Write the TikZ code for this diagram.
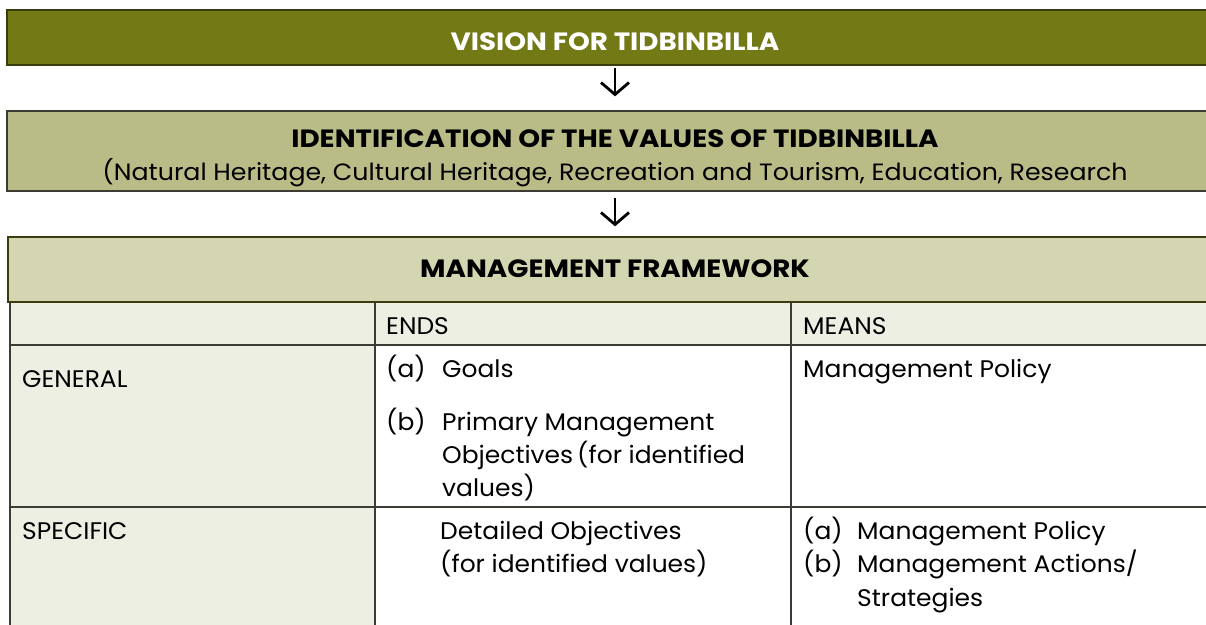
\documentclass[tikz,border=0pt]{standalone}
\usepackage{fontspec}
\setmainfont{Poppins}
\newfontfamily\cellfont[FakeStretch=1.04]{Poppins}
\newfontfamily\subfont[FakeStretch=1.07]{Poppins}
\newfontfamily\ttlfont[FakeStretch=1.11]{Poppins}
\usetikzlibrary{arrows.meta}
\definecolor{olivedark}{RGB}{115,122,21}
\definecolor{oliveline}{RGB}{58,60,12}
\definecolor{olivemid}{RGB}{185,188,134}
\definecolor{olivelight}{RGB}{212,214,177}
\definecolor{cellbg}{RGB}{238,239,227}
\definecolor{linegray}{RGB}{60,60,52}
\begin{document}
\begin{tikzpicture}[x=1pt,y=-1pt,
  box/.style={draw=linegray,line width=1.3pt,inner sep=0pt,minimum height=#1},
  ttl/.style={font=\ttlfont\fontsize{25}{28}\selectfont\bfseries,anchor=base,inner sep=0pt},
  sub/.style={font=\subfont\fontsize{23.6}{26}\selectfont,anchor=base,inner sep=0pt},
  cell/.style={font=\cellfont\fontsize{24}{28}\selectfont,anchor=base west,inner sep=0pt},
  arr/.style={line width=2.8pt,-{Straight Barb[length=12pt,width=28pt,line width=2.8pt]}},
  tline/.style={draw=linegray,line width=1.3pt}]
\useasboundingbox (0,0) rectangle (1206,624);
\clip (0,0) rectangle (1206,624);
\fill[white] (0,0) rectangle (1206,624);

% title boxes
\node[box=55pt,fill=olivedark,draw=oliveline,line width=1.6pt,minimum width=1216pt] (vision) at (615,37.5) {};
\node[ttl,text=white] (visiontxt) at (615,50) {VISION FOR TIDBINBILLA};

\node[box=80pt,fill=olivemid,minimum width=1216pt] (values) at (615,151) {};
\node[ttl] (valuestxt) at (615,147) {IDENTIFICATION OF THE VALUES OF TIDBINBILLA};
\node[sub] (valuessub) at (615,180) {(Natural Heritage, Cultural Heritage, Recreation and Tourism, Education, Research};

% table
\fill[cellbg] (10,302) rectangle (1230,345);
\fill[cellbg] (10,345) rectangle (375,700);
\draw[tline] (10,700) -- (10,302);
\draw[tline] (10,345) -- (1230,345);
\draw[tline] (10,507) -- (1230,507);
\draw[tline] (375,302) -- (375,700);
\draw[tline] (791,302) -- (791,700);

\node[box=65pt,fill=olivelight,draw=oliveline,minimum width=1214pt] (frame) at (615,269.5) {};
\node[ttl] (frametxt) at (615,277) {MANAGEMENT FRAMEWORK};

\draw[arr,shorten <=2pt,shorten >=14pt] (vision.south) -- (values.north);
\draw[arr,shorten <=6pt,shorten >=10pt] (values.south) -- (frame.north);

% header row
\node[cell] (ends) at (386,334) {ENDS};
\node[cell] (means) at (803,334) {MEANS};
% general row
\node[cell] (general) at (22,387) {GENERAL};
\node[cell] (ga) at (386,377) {(a)};
\node[cell] (gatxt) at (442,377) {Goals};
\node[cell] (gb) at (386,430) {(b)};
\node[cell] (gbtxt1) at (442,430) {Primary Management};
\node[cell] (gbtxt2) at (442,463) {Objectives\,(for identified};
\node[cell] (gbtxt3) at (442,496) {values)};
\node[cell] (gmeans) at (803,377) {Management Policy};
% specific row
\node[cell] (specific) at (22,539) {SPECIFIC};
\node[cell] (sends1) at (440,539) {Detailed Objectives};
\node[cell] (sends2) at (440,572) {(for identified values)};
\node[cell] (sa) at (803,539) {(a)};
\node[cell] (satxt) at (857,539) {Management Policy};
\node[cell] (sb) at (803,572) {(b)};
\node[cell] (sbtxt1) at (857,572) {Management Actions/};
\node[cell] (sbtxt2) at (857,606) {Strategies};
\end{tikzpicture}
\end{document}
